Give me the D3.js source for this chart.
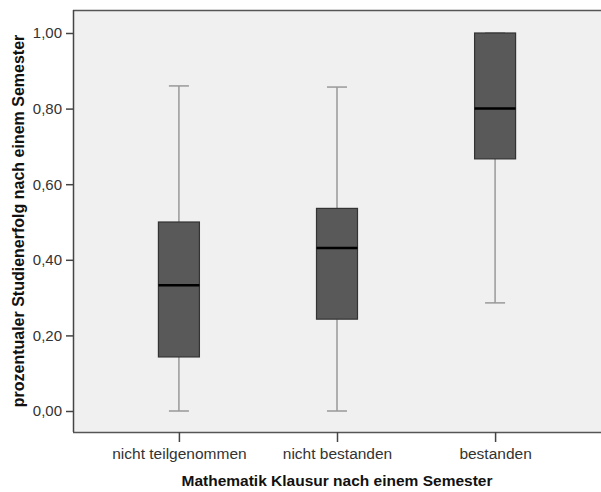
<!DOCTYPE html>
<html>
<head>
<meta charset="utf-8">
<script src="https://cdn.jsdelivr.net/npm/d3@7"></script>
<style>
  body { margin: 0; background: #fff; }
  svg { display: block; }
</style>
</head>
<body>
<div id="chart"></div>
<script>
// data
var categories = ['nicht teilgenommen', 'nicht bestanden', 'bestanden'];
var whiskerLow  = [0.00, 0.00, 0.286];
var q1          = [0.143, 0.243, 0.667];
var median      = [0.333, 0.431, 0.80];
var q3          = [0.50, 0.536, 1.00];
var whiskerHigh = [0.86, 0.857, 1.00];
var yTicks = [0, 0.2, 0.4, 0.6, 0.8, 1.0];

var width = 601, height = 492;
var plotLeft = 73, plotRight = 601, plotTop = 10, plotBottom = 432;
var boxWidth = 41, capWidth = 20;
var mainFont = 'Arial, "Liberation Sans", sans-serif';

var svg = d3.select('#chart').append('svg')
    .attr('width', width)
    .attr('height', height);

var x = d3.scalePoint()
    .domain(categories)
    .range([plotLeft, plotRight])
    .padding(0.67);

var y = d3.scaleLinear()
    .domain([0, 1])
    .range([411, 33]);

// plot background
svg.append('rect')
    .attr('x', plotLeft)
    .attr('y', plotTop)
    .attr('width', plotRight - plotLeft)
    .attr('height', plotBottom - plotTop)
    .attr('fill', '#f0f0f0');

// top frame line
svg.append('line')
    .attr('x1', plotLeft).attr('x2', plotRight)
    .attr('y1', plotTop + 0.5).attr('y2', plotTop + 0.5)
    .attr('stroke', '#555').attr('stroke-width', 1.5);

// y axis
var yAxis = svg.append('g')
    .attr('transform', 'translate(' + plotLeft + ',0)')
    .call(d3.axisLeft(y)
        .tickValues(yTicks)
        .tickSize(7)
        .tickPadding(4)
        .tickFormat(function(d) { return d3.format('.2f')(d).replace('.', ','); }));
yAxis.select('.domain')
    .attr('d', 'M0.5,' + plotTop + 'V' + plotBottom)
    .attr('stroke', '#444').attr('stroke-width', 1.5);
yAxis.selectAll('.tick line').attr('stroke', '#444').attr('stroke-width', 1.5);
yAxis.selectAll('.tick text')
    .attr('fill', '#333')
    .style('font-family', mainFont)
    .style('font-size', '15px');

// x axis
var xAxis = svg.append('g')
    .attr('transform', 'translate(0,' + plotBottom + ')')
    .call(d3.axisBottom(x).tickSize(10).tickPadding(6));
xAxis.select('.domain')
    .attr('d', 'M' + plotLeft + ',0.5H' + plotRight)
    .attr('stroke', '#555').attr('stroke-width', 1.5);
xAxis.selectAll('.tick line').attr('stroke', '#444').attr('stroke-width', 1.5);
xAxis.selectAll('.tick text')
    .attr('fill', '#333')
    .style('font-family', mainFont)
    .style('font-size', '15.5px');

// boxes
var boxes = svg.append('g');
categories.forEach(function(c, i) {
    var cx = x(c);

    // whiskers
    boxes.append('line')
        .attr('x1', cx).attr('x2', cx)
        .attr('y1', y(whiskerHigh[i])).attr('y2', y(q3[i]))
        .attr('stroke', '#999').attr('stroke-width', 1.5);
    boxes.append('line')
        .attr('x1', cx).attr('x2', cx)
        .attr('y1', y(q1[i])).attr('y2', y(whiskerLow[i]))
        .attr('stroke', '#999').attr('stroke-width', 1.5);
    [whiskerHigh[i], whiskerLow[i]].forEach(function(v) {
        boxes.append('line')
            .attr('x1', cx - capWidth / 2).attr('x2', cx + capWidth / 2)
            .attr('y1', y(v)).attr('y2', y(v))
            .attr('stroke', '#999').attr('stroke-width', 1.5);
    });

    // box
    boxes.append('rect')
        .attr('x', cx - boxWidth / 2)
        .attr('y', y(q3[i]))
        .attr('width', boxWidth)
        .attr('height', y(q1[i]) - y(q3[i]))
        .attr('fill', '#595959')
        .attr('stroke', '#333')
        .attr('stroke-width', 1.2);

    // median
    boxes.append('line')
        .attr('x1', cx - boxWidth / 2).attr('x2', cx + boxWidth / 2)
        .attr('y1', y(median[i])).attr('y2', y(median[i]))
        .attr('stroke', '#000').attr('stroke-width', 2.5);
});

// axis titles
svg.append('text')
    .attr('x', x(categories[1]))
    .attr('y', 486)
    .attr('text-anchor', 'middle')
    .style('font-family', mainFont)
    .style('font-size', '15.5px')
    .style('font-weight', 'bold')
    .attr('fill', '#111')
    .text('Mathematik Klausur nach einem Semester');

svg.append('text')
    .attr('transform', 'translate(24,' + 221 + ') rotate(-90)')
    .attr('text-anchor', 'middle')
    .style('font-family', mainFont)
    .style('font-size', '16px')
    .style('font-weight', 'bold')
    .attr('fill', '#111')
    .text('prozentualer Studienerfolg nach einem Semester');
</script>
</body>
</html>
